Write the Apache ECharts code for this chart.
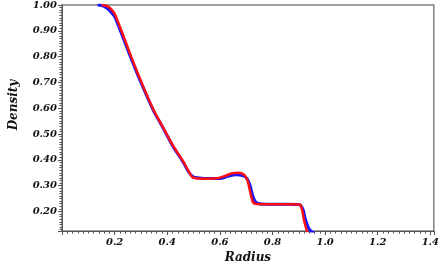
<!DOCTYPE html>
<html>
<head>
<meta charset="utf-8">
<script src="https://cdn.jsdelivr.net/npm/echarts@6/dist/echarts.min.js"></script>
<style>
  html, body { margin: 0; padding: 0; background: #fff; }
  #chart { width: 442px; height: 269px; }
</style>
</head>
<body>
<div id="chart"></div>
<script>
// blue run (drawn underneath)
const blueRadius = [0.135, 0.155, 0.17, 0.185, 0.2, 0.22, 0.26, 0.3, 0.348, 0.378, 0.422, 0.46, 0.482, 0.5, 0.52, 0.56, 0.6, 0.63, 0.66, 0.69, 0.705, 0.715, 0.725, 0.735, 0.75, 0.8, 0.9, 0.915, 0.925, 0.935, 0.945, 0.96]
const blueDensity = [1.0, 0.997, 0.988, 0.974, 0.955, 0.905, 0.8, 0.7, 0.59, 0.535, 0.452, 0.392, 0.352, 0.333, 0.33, 0.328, 0.328, 0.336, 0.342, 0.338, 0.325, 0.3, 0.26, 0.238, 0.23, 0.228, 0.227, 0.21, 0.17, 0.14, 0.125, 0.115]
// red run (drawn on top)
const redRadius = [0.15, 0.168, 0.18, 0.19, 0.2, 0.226, 0.263, 0.3, 0.348, 0.378, 0.422, 0.46, 0.48, 0.496, 0.52, 0.56, 0.596, 0.62, 0.644, 0.67, 0.693, 0.705, 0.711, 0.72, 0.726, 0.74, 0.78, 0.85, 0.904, 0.91, 0.915, 0.92, 0.93, 0.935]
const redDensity = [1.0, 0.997, 0.99, 0.98, 0.966, 0.9, 0.8, 0.705, 0.593, 0.537, 0.455, 0.395, 0.358, 0.333, 0.328, 0.327, 0.33, 0.338, 0.347, 0.35, 0.342, 0.32, 0.295, 0.255, 0.235, 0.229, 0.228, 0.228, 0.227, 0.215, 0.194, 0.165, 0.127, 0.11]

const labelFont = {
  fontFamily: 'DejaVu Serif',
  fontStyle: 'italic',
  fontWeight: 'bold',
  color: '#111'
}

function pairs(xs, ys) {
  return xs.map((x, i) => [x, ys[i]])
}

const chart = echarts.init(document.getElementById('chart'))
chart.setOption({
  animation: false,
  grid: {
    left: 55, top: 4, right: 4.5, bottom: 30,
    show: true,
    borderColor: '#808080',
    borderWidth: 1.5
  },
  xAxis: {
    type: 'value',
    min: 0,
    max: 1.413,
    interval: 0.2,
    name: 'Radius',
    nameLocation: 'middle',
    nameGap: 16,
    nameTextStyle: Object.assign({ fontSize: 12 }, labelFont),
    axisLine: { lineStyle: { color: '#555', width: 1 } },
    axisTick: { length: 4, lineStyle: { color: '#555' } },
    minorTick: { show: true, splitNumber: 10, length: 2.5, lineStyle: { color: '#555' } },
    splitLine: { show: false },
    axisLabel: Object.assign({
      fontSize: 10,
      margin: 6,
      formatter: (v) => {
        const k = Math.round(v / 0.2)
        if (k === 0 || Math.abs(v - k * 0.2) > 1e-6) return ''
        return (k * 0.2).toFixed(1)
      }
    }, labelFont)
  },
  yAxis: {
    type: 'value',
    min: 0.124,
    max: 1.0,
    splitNumber: 9,
    name: 'Density',
    nameLocation: 'middle',
    nameGap: 42,
    nameTextStyle: Object.assign({ fontSize: 12, padding: [0, 0, 0, 26] }, labelFont),
    axisLine: { show: true, lineStyle: { color: '#555', width: 1 } },
    axisTick: { show: true, length: 4, lineStyle: { color: '#555' } },
    minorTick: { show: true, splitNumber: 10, length: 2.5, lineStyle: { color: '#555' } },
    splitLine: { show: false },
    axisLabel: Object.assign({
      fontSize: 10,
      margin: 5,
      formatter: (v) => {
        const k = Math.round(v / 0.1)
        if (Math.abs(v - k * 0.1) > 1e-6) return ''
        return (k * 0.1).toFixed(2)
      }
    }, labelFont)
  },
  series: [
    {
      type: 'line',
      data: pairs(blueRadius, blueDensity),
      smooth: 0.3,
      showSymbol: false,
      lineStyle: { color: '#1515ff', width: 3 }
    },
    {
      type: 'line',
      data: pairs(redRadius, redDensity),
      smooth: 0.3,
      showSymbol: false,
      lineStyle: { color: '#ff1010', width: 2.5 }
    }
  ]
})
</script>
</body>
</html>
